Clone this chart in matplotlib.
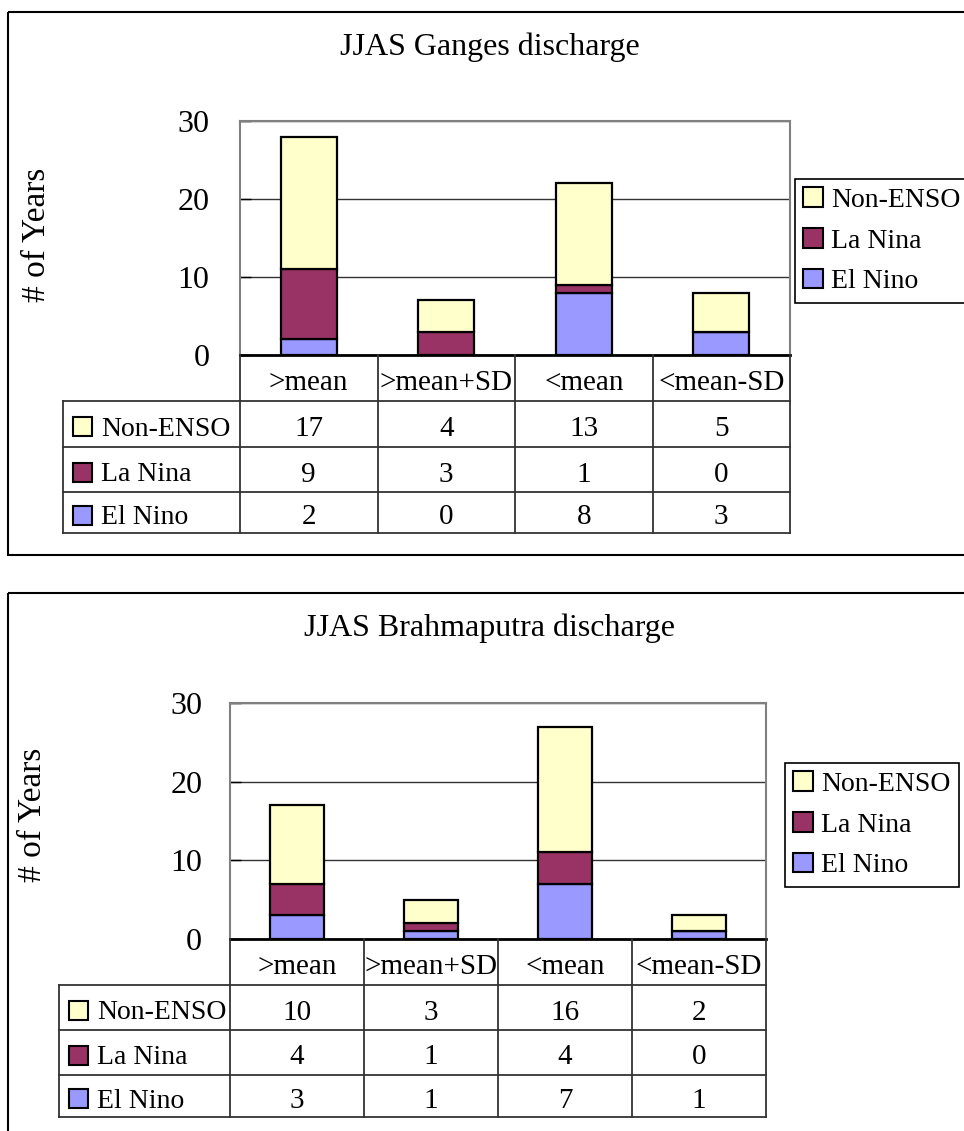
import matplotlib
matplotlib.use('Agg')
from matplotlib import pyplot as plt
from matplotlib.patches import Rectangle, Patch
import numpy as np

# counts of years per class, stacked bottom -> top
categories = ['>mean', '>mean+SD', '<mean', '<mean-SD']
series_names = ['El Nino', 'La Nina', 'Non-ENSO']
colors = ['#9999FF', '#993366', '#FFFFCC']

ganges_el_nino = [2, 0, 8, 3]
ganges_la_nina = [9, 3, 1, 0]
ganges_non_enso = [17, 4, 13, 5]

brahma_el_nino = [3, 1, 7, 1]
brahma_la_nina = [4, 1, 4, 0]
brahma_non_enso = [10, 3, 16, 2]

yticks = [0, 10, 20, 30]

W, H = 964, 1131
FONT = 'Liberation Serif'
FS = 20

fig = plt.figure(figsize=(W / 100, H / 100), dpi=100)
# overlay in pixel coords for frames, tables and keys
ov = fig.add_axes([0, 0, 1, 1])
ov.set_xlim(0, W)
ov.set_ylim(H, 0)
ov.axis('off')
ov.set_zorder(5)
ov.patch.set_alpha(0)


def px_axes(left, top, right, bottom):
    return fig.add_axes([left / W, 1 - bottom / H, (right - left) / W, (bottom - top) / H])


def draw_chart(title, series, lay):
    fx0, fy0, fy1 = lay['frame']
    ov.add_patch(Rectangle((fx0, fy0), W + 20 - fx0, fy1 - fy0, fill=False,
                           edgecolor='black', lw=1.5, clip_on=False))
    ov.text(lay['title'][0], lay['title'][1], title, ha='center', va='center',
            family=FONT, fontsize=FS + 3)

    left, top, right, bottom = lay['plot']
    ax = px_axes(left, top, right, bottom)
    x = np.arange(len(categories))
    base = np.zeros(len(categories))
    for vals, c in zip(series, colors):
        ax.bar(x, vals, bottom=base, width=0.41, color=c, edgecolor='black',
               lw=1.6, zorder=3)
        base += np.array(vals)
    ax.set_xlim(-0.5, len(categories) - 0.5)
    ax.set_ylim(0, 30)
    ax.set_yticks(yticks)
    ax.set_yticklabels([str(t) for t in yticks], family=FONT, fontsize=FS + 3)
    ax.tick_params(axis='y', direction='in', length=8, width=1, pad=lay['pad'])
    ax.set_xticks([])
    ax.grid(axis='y', color='#333333', lw=1, zorder=0)
    for s in ax.spines.values():
        s.set_color('#808080')
        s.set_linewidth(1.5)
    ax.spines['bottom'].set_color('black')
    ax.spines['bottom'].set_linewidth(2)

    ov.text(lay['ylabel'][0], lay['ylabel'][1], '# of Years', rotation=90,
            ha='center', va='center', family=FONT, fontsize=FS + 4)

    # data table under the plot
    col_w = (right - left) / len(categories)
    hb = lay['rows'][0]
    row_edges = lay['rows']
    lab_left = lay['label_left']
    lc = '#333333'
    for i in range(len(categories) + 1):
        xx = left + i * col_w
        ov.plot([xx, xx], [bottom, row_edges[-1]], color=lc, lw=1.3)
    ov.plot([lab_left, lab_left], [hb, row_edges[-1]], color=lc, lw=1.3)
    ov.plot([left, right], [hb, hb], color=lc, lw=1.3)
    ov.plot([lab_left, left], [hb, hb], color=lc, lw=1.3)
    for yy in row_edges[1:]:
        ov.plot([lab_left, right], [yy, yy], color=lc, lw=1.3)
    for i, cat in enumerate(categories):
        ov.text(left + (i + 0.5) * col_w, (bottom + hb) / 2 + 2, cat,
                ha='center', va='center_baseline', family=FONT, fontsize=FS + 1)
    rows = list(zip(series_names, series, colors))[::-1]
    for r, (name, vals, c) in enumerate(rows):
        yc = (row_edges[r] + row_edges[r + 1]) / 2 + 2
        ov.add_patch(Rectangle((lab_left + 10, yc - 9), 19, 19, facecolor=c,
                               edgecolor='black', lw=1.5))
        ov.text(lab_left + 38, yc, name, ha='left', va='center_baseline',
                family=FONT, fontsize=FS)
        for i, v in enumerate(vals):
            ov.text(left + (i + 0.5) * col_w, yc, str(v), ha='center',
                    va='center_baseline', family=FONT, fontsize=FS + 1)

    # legend box on the right
    lx, ly = lay['legend']
    handles = [Patch(facecolor=c, edgecolor='black', lw=1.5, label=n)
               for n, c in zip(series_names, colors)][::-1]
    leg = ax.legend(handles=handles, loc='upper left',
                    bbox_to_anchor=(lx / W, 1 - ly / H),
                    bbox_transform=fig.transFigure, fancybox=False,
                    edgecolor='black', framealpha=1, borderpad=0.3,
                    handlelength=0.7, handleheight=0.7, handletextpad=0.3,
                    labelspacing=0.55, borderaxespad=0,
                    prop={'family': FONT, 'size': FS})
    leg.get_frame().set_linewidth(1.2)


draw_chart('JJAS Ganges discharge',
           [ganges_el_nino, ganges_la_nina, ganges_non_enso],
           {'frame': (8, 12, 555), 'title': (490, 47),
            'plot': (240, 121, 790, 355), 'pad': 22, 'ylabel': (37, 235),
            'rows': [401, 447, 492, 533], 'label_left': 63,
            'legend': (795, 179)})

draw_chart('JJAS Brahmaputra discharge',
           [brahma_el_nino, brahma_la_nina, brahma_non_enso],
           {'frame': (8, 593, 1145), 'title': (490, 628),
            'plot': (230, 703, 766, 939), 'pad': 20, 'ylabel': (33, 815),
            'rows': [985, 1030, 1075, 1117], 'label_left': 59,
            'legend': (785, 763)})

fig.savefig('out.png', dpi=100)
